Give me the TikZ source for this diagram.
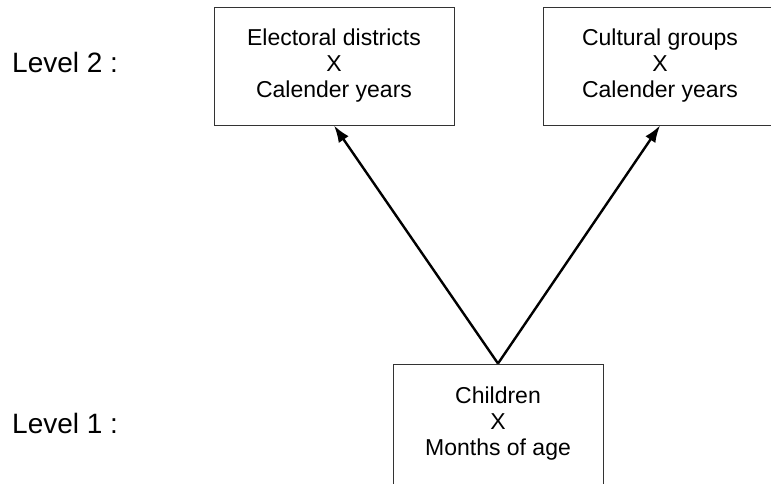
\documentclass[tikz,border=0pt]{standalone}
\usepackage{fontspec}
\setmainfont{Liberation Sans}
\usetikzlibrary{arrows.meta}

\begin{document}
\begin{tikzpicture}[x=1pt, y=-1pt,
    box/.style={draw=black!80, line width=1pt, align=center,
      font=\fontsize{23}{26}\selectfont, inner sep=0pt},
    link/.style={line width=2.4pt, -{Latex[length=17pt, width=12pt]}},
    level/.style={anchor=base west, inner sep=0pt, font=\fontsize{28}{32}\selectfont}]
  \useasboundingbox (0,0) rectangle (771,483);

  % level 2 boxes (the right one runs off the page)
  \node[box, minimum width=240pt, minimum height=118pt] (ed) at (334, 66)
    {Electoral districts\\X\\Calender years};
  \node[box, minimum width=234pt, minimum height=118pt] (cg) at (660, 66)
    {Cultural groups\\X\\Calender years};

  % level 1 box (bottom edge runs off the page)
  \node[box, minimum width=210pt, minimum height=120pt] (ch) at (498, 424)
    {Children\\X\\Months of age};

  \draw[link] (ch.north) -- (ed.south);
  \draw[link] (ch.north) -- (cg.south);

  \node[level] (lv2) at (12, 72) {Level 2 :};
  \node[level] (lv1) at (12, 433) {Level 1 :};
\end{tikzpicture}
\end{document}
